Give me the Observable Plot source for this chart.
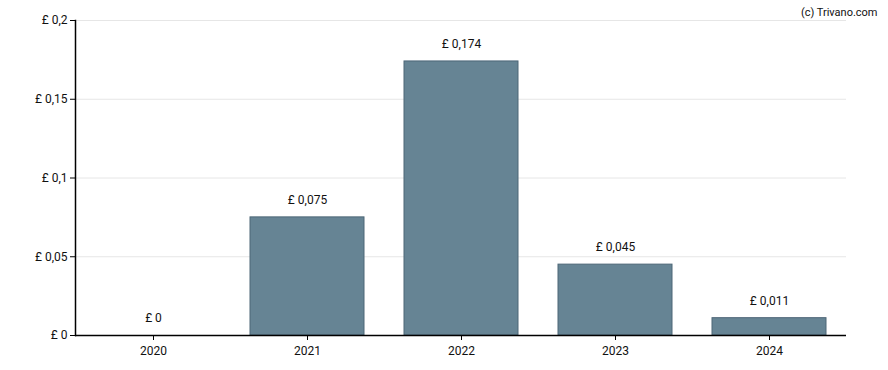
<!DOCTYPE html>
<html>
<head>
<meta charset="utf-8">
<script src="https://cdn.jsdelivr.net/npm/d3@7"></script>
<script src="https://cdn.jsdelivr.net/npm/@observablehq/plot@0.6"></script>
<style>
  body { margin: 0; background: #fff; }
  #chart svg { display: block; }
</style>
</head>
<body>
<div id="chart"></div>
<script>
const years = ["2020", "2021", "2022", "2023", "2024"];
const values = [0, 0.075, 0.174, 0.045, 0.011];
const valueLabels = ["£ 0", "£ 0,075", "£ 0,174", "£ 0,045", "£ 0,011"];
const yTicks = [0, 0.05, 0.1, 0.15, 0.2];
const yTickLabels = ["£ 0", "£ 0,05", "£ 0,1", "£ 0,15", "£ 0,2"];

const data = years.map((y, i) => ({ year: y, value: values[i], label: valueLabels[i] }));

const chart = Plot.plot({
  width: 888,
  height: 370,
  marginLeft: 75,
  marginRight: 42,
  marginTop: 20,
  marginBottom: 35,
  style: { fontFamily: "Roboto, sans-serif", fontSize: "12px", color: "#111" },
  x: { domain: years, paddingInner: 0.26, paddingOuter: 0.13, label: null },
  y: { domain: [0, 0.2], label: null },
  marks: [
    Plot.gridY(yTicks, { stroke: "#e6e6e6", strokeOpacity: 1 }),
    Plot.barY(data, { x: "year", y: "value", fill: "#668494", stroke: "#4d6677", strokeWidth: 1 }),
    Plot.text(data, { x: "year", y: "value", text: "label", dy: -17, fontSize: 12, fill: "#111" }),
    Plot.axisY(yTicks, { tickFormat: (d) => yTickLabels[yTicks.indexOf(d)], tickSize: 5, tickPadding: 3, fontSize: 12, stroke: "#000", label: null }),
    Plot.frame({ anchor: "left", stroke: "#000", strokeWidth: 1.5 }),
    Plot.axisX({ tickSize: 5, tickPadding: 6, fontSize: 12, stroke: "#000", label: null }),
    Plot.ruleY([0], { stroke: "#000", strokeWidth: 1.5 }),
    Plot.text(["(c) Trivano.com"], { frameAnchor: "top-right", textAnchor: "end", dx: 31, dy: -12, fontSize: 11, fill: "#111" })
  ]
});
document.getElementById("chart").appendChild(chart);
</script>
</body>
</html>
